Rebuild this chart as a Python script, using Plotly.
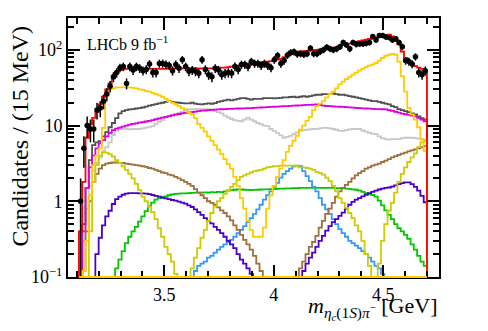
import numpy as np
import plotly.graph_objects as go

# binning of the eta_c(1S) pi- mass spectrum, 15 MeV bins
LO, WIDTH, NBINS = 3.11, 0.015, 106
EDGES = LO + WIDTH * np.arange(NBINS + 1)
CENTRES = EDGES[:-1] + WIDTH / 2
FLOOR = 0.01

data_counts = [
    1, 5, 10, 9, 9, 16, 17, 21, 26, 33,
    44, 50, 58, 60, 36, 60, 54, 60, 57, 53,
    55, 65, 50, 50, 66, 66, 64, 62, 53, 64,
    57, 74, 60, 52, 54, 52, 49, 74, 55, 47,
    44, 57, 54, 47, 49, 50, 49, 60, 55, 64,
    64, 60, 70, 66, 66, 62, 66, 62, 58, 74,
    84, 66, 72, 85, 92, 94, 88, 89, 87, 89,
    105, 89, 89, 95, 100, 108, 103, 100, 103, 110,
    125, 116, 103, 125, 118, 120, 120, 122, 125, 150,
    135, 155, 155, 148, 145, 135, 140, 125, 110, 72,
    70, 65, 81, 50, 47, 53]

fit_total = [
    0.4, 1.8, 6.9, 10.4, 12.6, 15, 19, 24, 30, 36,
    42, 49, 54, 55, 56, 56, 56, 56, 56, 56,
    56, 56, 56, 56, 56, 56, 56, 56, 56, 57,
    57, 57, 57, 57, 57, 57, 57, 57, 57, 57,
    57, 58, 58, 58, 58, 59, 60, 61, 62, 63,
    63, 64, 65, 66, 67, 68, 69, 70, 71, 72,
    74, 76, 80, 84, 88, 91, 93, 95, 96, 97,
    98, 99, 100, 101, 102, 103, 103, 105, 108, 112,
    115, 118, 121, 124, 127, 130, 133, 136, 139, 142,
    145, 148, 152, 156, 158, 150, 135, 118, 95, 78,
    70, 65, 61, 58, 56, 54]

comp_gold = [
    0.05, 0.12, 0.3, 1.2, 3.0, 4.0, 5.0, 9.3, 25, 30,
    31, 32, 32, 32, 32, 32, 31.5, 31, 30, 29.5,
    28.5, 28, 27, 26, 25, 24, 22.5, 21, 20, 19,
    18, 17, 16.5, 15, 14, 12.5, 10.5, 9.3, 8.3, 7.2,
    6.3, 5.5, 4.8, 4.2, 3.6, 3.1, 2.7, 2.1, 1.6, 1.1,
    0.8, 0.55, 0.42, 0.34, 0.34, 0.34, 0.45, 0.8, 1.2, 1.6,
    2.1, 2.7, 3.5, 4.5, 5.4, 6.3, 7.3, 8.8, 10, 11.5,
    13, 16, 18, 19.5, 21, 23.5, 26, 28, 31, 35,
    38, 41, 44, 47, 50, 53, 56, 59, 62, 64,
    67, 72, 78, 83, 86, 88, 86, 70, 45, 28,
    17, 14, 12, 9.5, 6.5, 4.6]

comp_dgrey = [
    0.1, 0.5, 1.5, 3.5, 5.5, 6.0, 6.2, 7.2, 8.2, 9.5,
    10.8, 12.5, 14.5, 15.5, 16, 16.3, 16.5, 16.8, 17, 17.3,
    17.8, 18.3, 18.8, 19.2, 19.6, 20, 20.5, 21, 20.5, 20.2,
    20, 19.8, 19.6, 19.6, 20, 19.5, 19.2, 19, 19.3, 19.6,
    19.4, 19.8, 20.5, 21, 21.5, 22, 21.5, 22, 22.5, 23,
    23, 22.5, 22, 22.5, 22.5, 22.5, 23, 23, 23, 22.8,
    23, 23.2, 23.5, 23.5, 23.8, 24, 23.5, 24, 24.5, 24,
    24.5, 25, 25.5, 25.5, 26, 26, 26, 26.5, 26, 25.5,
    25.5, 25, 24.5, 24, 23.5, 23, 22.5, 22, 21.5, 21,
    21, 20.5, 20, 19.5, 19, 18, 17.5, 16.5, 16, 15.5,
    15, 14.5, 14, 13.2, 12.5, 12]

comp_magenta = [
    0.1, 0.4, 1.5, 2.8, 4.0, 5.0, 5.8, 6.4, 7.2, 8.0,
    8.7, 9.1, 9.4, 9.7, 10, 10.3, 10.5, 10.7, 10.9, 11.1,
    11.3, 11.5, 11.8, 12.1, 12.4, 12.7, 13, 13.3, 13.6, 13.9,
    14.2, 14.5, 14.7, 14.9, 15.1, 15.3, 15.5, 15.7, 15.8, 16,
    16.1, 16.2, 16.3, 16.4, 16.5, 16.6, 16.6, 16.7, 16.8, 16.8,
    16.9, 17, 17, 17.1, 17.2, 17.3, 17.4, 17.5, 17.6, 17.7,
    17.8, 17.9, 18, 18, 18.2, 18.3, 18.4, 18.5, 18.6, 18.7,
    18.8, 18.9, 19, 18.7, 18.3, 18.1, 18, 17.9, 17.8, 17.7,
    17.6, 17.5, 17.4, 17.2, 17.1, 17, 16.9, 16.8, 16.7, 16.6,
    16.5, 16.5, 16.4, 16.3, 16, 15.6, 15.2, 14.8, 14.4, 14.1,
    13.8, 13.5, 13.2, 12.6, 12, 11.4]

comp_lgrey = [
    0.1, 0.3, 0.8, 1.6, 2.5, 3.2, 3.8, 4.6, 5.2, 6.0,
    7.5, 8.5, 9.0, 9.0, 9.0, 8.9, 9.0, 9.0, 9.0, 9.2,
    9.4, 9.6, 9.8, 10.5, 11.2, 11.8, 12.6, 13.2, 13.8, 14.2,
    14.6, 15.2, 15.8, 16.2, 16.5, 16.5, 16.6, 16.5, 16.4, 16.4,
    16, 15.5, 15, 14.5, 13.5, 12.8, 12.2, 11.8, 11.5, 11.4,
    12, 12.6, 12, 11.4, 10.8, 10.4, 10, 9.8, 9.0, 8.5,
    8, 7.4, 6.9, 7.1, 7.3, 7.7, 8.1, 8.5, 8.7, 8.8,
    8.9, 9.0, 9.0, 9.2, 9.3, 9.3, 9.2, 9.0, 8.8, 8.5,
    8.5, 8.7, 8.9, 9.0, 9.0, 9.0, 8.6, 8.3, 8.0, 7.8,
    7.7, 7.2, 6.8, 6.6, 6.5, 6.6, 6.6, 6.6, 6.8, 6.9,
    6.9, 6.9, 6.8, 6.7, 6.6, 6.5]

comp_brown = [
    0.05, 0.12, 0.4, 1.0, 1.8, 2.3, 2.7, 3.0, 3.15, 3.2,
    3.25, 3.25, 3.2, 3.2, 3.15, 3.1, 3.05, 3.0, 2.95, 2.9,
    2.85, 2.75, 2.7, 2.6, 2.5, 2.4, 2.35, 2.25, 2.2, 2.1,
    2.0, 1.9, 1.8, 1.7, 1.6, 1.45, 1.3, 1.2, 1.1, 1.0,
    0.95, 0.9, 0.83, 0.76, 0.7, 0.63, 0.56, 0.48, 0.42, 0.36,
    0.31, 0.27, 0.23, 0.19, 0.15, 0.12, 0.09, 0.07, 0.05, 0.04,
    0.04, 0.04, 0.04, 0.05, 0.06, 0.08, 0.1, 0.13, 0.16, 0.2,
    0.25, 0.29, 0.35, 0.45, 0.55, 0.68, 0.8, 0.95, 1.15, 1.35,
    1.5, 1.65, 1.8, 2.0, 2.2, 2.35, 2.5, 2.7, 2.8, 2.95,
    3.05, 3.15, 3.3, 3.45, 3.6, 3.8, 3.95, 4.1, 4.25, 4.4,
    4.55, 4.7, 4.85, 5.0, 5.2, 5.4]

comp_olive = [
    0.01, 0.01, 0.05, 0.4, 1.8, 3.0, 4.0, 4.4, 4.4, 4.2,
    3.9, 3.5, 3.2, 2.9, 2.6, 2.3, 2.0, 1.7, 1.4, 1.15,
    1.0, 0.85, 0.72, 0.58, 0.44, 0.34, 0.25, 0.2, 0.16, 0.11,
    0.07, 0.05, 0.06, 0.09, 0.13, 0.18, 0.24, 0.33, 0.42, 0.55,
    0.7, 0.85, 1.0, 1.1, 1.25, 1.4, 1.55, 1.7, 1.9, 2.1,
    2.2, 2.3, 2.4, 2.5, 2.55, 2.6, 2.7, 2.8, 2.85, 2.9,
    2.9, 2.95, 2.95, 2.95, 2.95, 2.95, 2.9, 2.8, 2.8, 2.75,
    2.7, 2.6, 2.45, 2.35, 2.25, 2.05, 1.85, 1.6, 1.35, 1.1,
    0.95, 0.82, 0.7, 0.6, 0.48, 0.4, 0.3, 0.2, 0.14, 0.1,
    0.09, 0.15, 0.3, 0.5, 0.75, 0.95, 1.3, 1.8, 2.3, 2.8,
    3.3, 3.8, 4.3, 5.2, 6.0, 6.3]

comp_purple = [
    0.01, 0.01, 0.01, 0.01, 0.09, 0.2, 0.33, 0.48, 0.63, 0.75,
    0.92, 1.07, 1.15, 1.22, 1.26, 1.28, 1.28, 1.28, 1.27, 1.27,
    1.26, 1.24, 1.21, 1.18, 1.15, 1.12, 1.09, 1.07, 1.04, 1.02,
    0.99, 0.96, 0.93, 0.88, 0.84, 0.78, 0.72, 0.66, 0.6, 0.55,
    0.51, 0.46, 0.42, 0.38, 0.34, 0.3, 0.27, 0.24, 0.2, 0.17,
    0.15, 0.13, 0.11, 0.09, 0.07, 0.05, 0.04, 0.03, 0.03, 0.03,
    0.03, 0.03, 0.03, 0.03, 0.03, 0.04, 0.06, 0.09, 0.12, 0.15,
    0.18, 0.21, 0.25, 0.3, 0.35, 0.41, 0.47, 0.53, 0.58, 0.64,
    0.71, 0.8, 0.9, 0.98, 1.05, 1.1, 1.16, 1.22, 1.28, 1.33,
    1.38, 1.43, 1.47, 1.5, 1.52, 1.56, 1.62, 1.68, 1.74, 1.78,
    1.78, 1.68, 1.55, 1.38, 1.18, 0.97]

comp_green = [
    0.01, 0.01, 0.01, 0.01, 0.01, 0.01, 0.01, 0.01, 0.01, 0.07,
    0.1, 0.13, 0.17, 0.22, 0.28, 0.34, 0.4, 0.46, 0.54, 0.63,
    0.74, 0.86, 0.96, 1.05, 1.1, 1.13, 1.16, 1.2, 1.23, 1.25,
    1.26, 1.27, 1.27, 1.28, 1.29, 1.3, 1.3, 1.3, 1.31, 1.3,
    1.32, 1.31, 1.33, 1.32, 1.35, 1.38, 1.4, 1.42, 1.44, 1.43,
    1.42, 1.41, 1.4, 1.41, 1.42, 1.43, 1.44, 1.44, 1.45, 1.45,
    1.46, 1.47, 1.47, 1.48, 1.48, 1.49, 1.49, 1.5, 1.5, 1.5,
    1.5, 1.5, 1.5, 1.5, 1.5, 1.5, 1.5, 1.5, 1.49, 1.49,
    1.48, 1.47, 1.46, 1.44, 1.42, 1.38, 1.33, 1.28, 1.24, 1.21,
    1.15, 1.02, 0.88, 0.76, 0.66, 0.58, 0.5, 0.44, 0.4, 0.36,
    0.32, 0.27, 0.23, 0.19, 0.16, 0.14]

comp_blue = [
    0.01, 0.01, 0.01, 0.01, 0.01, 0.01, 0.01, 0.01, 0.01, 0.01,
    0.01, 0.01, 0.01, 0.01, 0.01, 0.01, 0.01, 0.01, 0.01, 0.01,
    0.01, 0.01, 0.01, 0.01, 0.01, 0.01, 0.01, 0.01, 0.01, 0.01,
    0.03, 0.05, 0.07, 0.09, 0.1, 0.12, 0.14, 0.15, 0.16, 0.18,
    0.19, 0.21, 0.23, 0.25, 0.27, 0.29, 0.31, 0.34, 0.38, 0.42,
    0.47, 0.53, 0.6, 0.68, 0.78, 0.9, 1.05, 1.2, 1.35, 1.55,
    1.75, 2.05, 2.3, 2.5, 2.7, 2.9, 2.95, 2.9, 2.5, 2.15,
    1.85, 1.55, 1.35, 1.1, 0.9, 0.78, 0.68, 0.58, 0.5, 0.43,
    0.38, 0.34, 0.3, 0.28, 0.26, 0.24, 0.22, 0.2, 0.18, 0.16,
    0.14, 0.13, 0.11, 0.09, 0.08, 0.06, 0.05, 0.04, 0.03, 0.02,
    0.02, 0.01, 0.01, 0.01, 0.01, 0.01]

# drawing order, bottom first
COMPONENTS = [
    (comp_lgrey, "#c8c8c8"),
    (comp_dgrey, "#505050"),
    (comp_magenta, "#dd00dd"),
    (comp_green, "#00c800"),
    (comp_blue, "#3399ff"),
    (comp_purple, "#4b00cc"),
    (comp_brown, "#a0703c"),
    (comp_olive, "#cccc00"),
    (comp_gold, "#ffcc00"),
]

for vals, _ in COMPONENTS + [(fit_total, None), (data_counts, None)]:
    assert len(vals) == NBINS, len(vals)


def step_xy(vals):
    # closed ROOT-like histogram outline
    x = np.concatenate([[EDGES[0]], EDGES[:-1], [EDGES[-1], EDGES[-1]]])
    y = np.concatenate([[FLOOR], vals, [vals[-1], FLOOR]])
    return x, y


fig = go.Figure()

for vals, col in COMPONENTS:
    x, y = step_xy(vals)
    fig.add_trace(go.Scatter(x=x, y=y, mode="lines", line_shape="hv",
                             line=dict(color=col, width=1.8), hoverinfo="skip"))

x, y = step_xy(fit_total)
fig.add_trace(go.Scatter(x=x, y=y, mode="lines", line_shape="hv",
                         line=dict(color="#ff0000", width=1.8), hoverinfo="skip"))

counts = np.array(data_counts, dtype=float)
err = np.sqrt(counts)
fig.add_trace(go.Scatter(
    x=CENTRES, y=counts, mode="markers",
    marker=dict(color="black", size=5.5),
    error_y=dict(type="data", array=err, arrayminus=np.minimum(err, counts * 0.995),
                 color="black", thickness=1.5, width=0),
))

# histograms sitting below the frame minimum are drawn along the bottom
fig.add_shape(type="line", xref="x", yref="y domain", x0=EDGES[0], x1=EDGES[-1],
              y0=0, y1=0, line=dict(color="#ffcc00", width=2))

minor_y = [m * 10.0 ** e for e in (-1, 0, 1, 2) for m in range(2, 10)]

# page body adds an 8 px offset, so the figure is 8 px smaller each way
fig.update_layout(
    width=480, height=323,
    margin=dict(l=60, r=49, t=8, b=54),
    paper_bgcolor="white", plot_bgcolor="white",
    showlegend=False,
    font=dict(family="Liberation Serif", size=18, color="black"),
    xaxis=dict(
        range=[3.06, 4.755],
        tickvals=[3.5, 4.0, 4.5], ticktext=["3.5", "4", "4.5"],
        ticks="inside", ticklen=12, tickwidth=1.5, tickcolor="black",
        mirror="allticks", showline=True, linewidth=2, linecolor="black",
        showgrid=False, zeroline=False,
        minor=dict(tickmode="linear", tick0=3.0, dtick=0.1, ticks="inside",
                   ticklen=6, tickwidth=1.5, tickcolor="black", showgrid=False),
    ),
    yaxis=dict(
        type="log", range=[-1, 2.42],
        tickvals=[0.1, 1, 10, 100],
        ticktext=["10<sup>−1</sup>", "1", "10", "10<sup>2</sup>"],
        ticks="inside", ticklen=12, tickwidth=1.5, tickcolor="black",
        mirror="allticks", showline=True, linewidth=2, linecolor="black",
        showgrid=False, zeroline=False,
        minor=dict(tickmode="array", tickvals=minor_y, ticks="inside",
                   ticklen=6, tickwidth=1.5, tickcolor="black", showgrid=False),
    ),
)

fig.add_annotation(
    text="Candidates / (15 MeV)", textangle=-90,
    xref="paper", yref="paper", x=-0.13, y=0.545,
    xanchor="center", yanchor="middle", showarrow=False,
    font=dict(family="Liberation Serif", size=24),
)
fig.add_annotation(
    text="<i>m</i><sub><i>η<sub>c</sub></i>(1<i>S</i>)<i>π</i><sup>−</sup></sub> [GeV]",
    xref="paper", yref="paper", x=1.0, y=-0.055,
    xanchor="right", yanchor="top", showarrow=False,
    font=dict(family="Liberation Serif", size=22),
)
fig.add_annotation(
    text="LHCb 9 fb<sup>−1</sup>",
    xref="paper", yref="paper", x=0.045, y=0.905,
    xanchor="left", yanchor="middle", showarrow=False,
    font=dict(family="Liberation Serif", size=16),
)

fig.write_html("out.html")
